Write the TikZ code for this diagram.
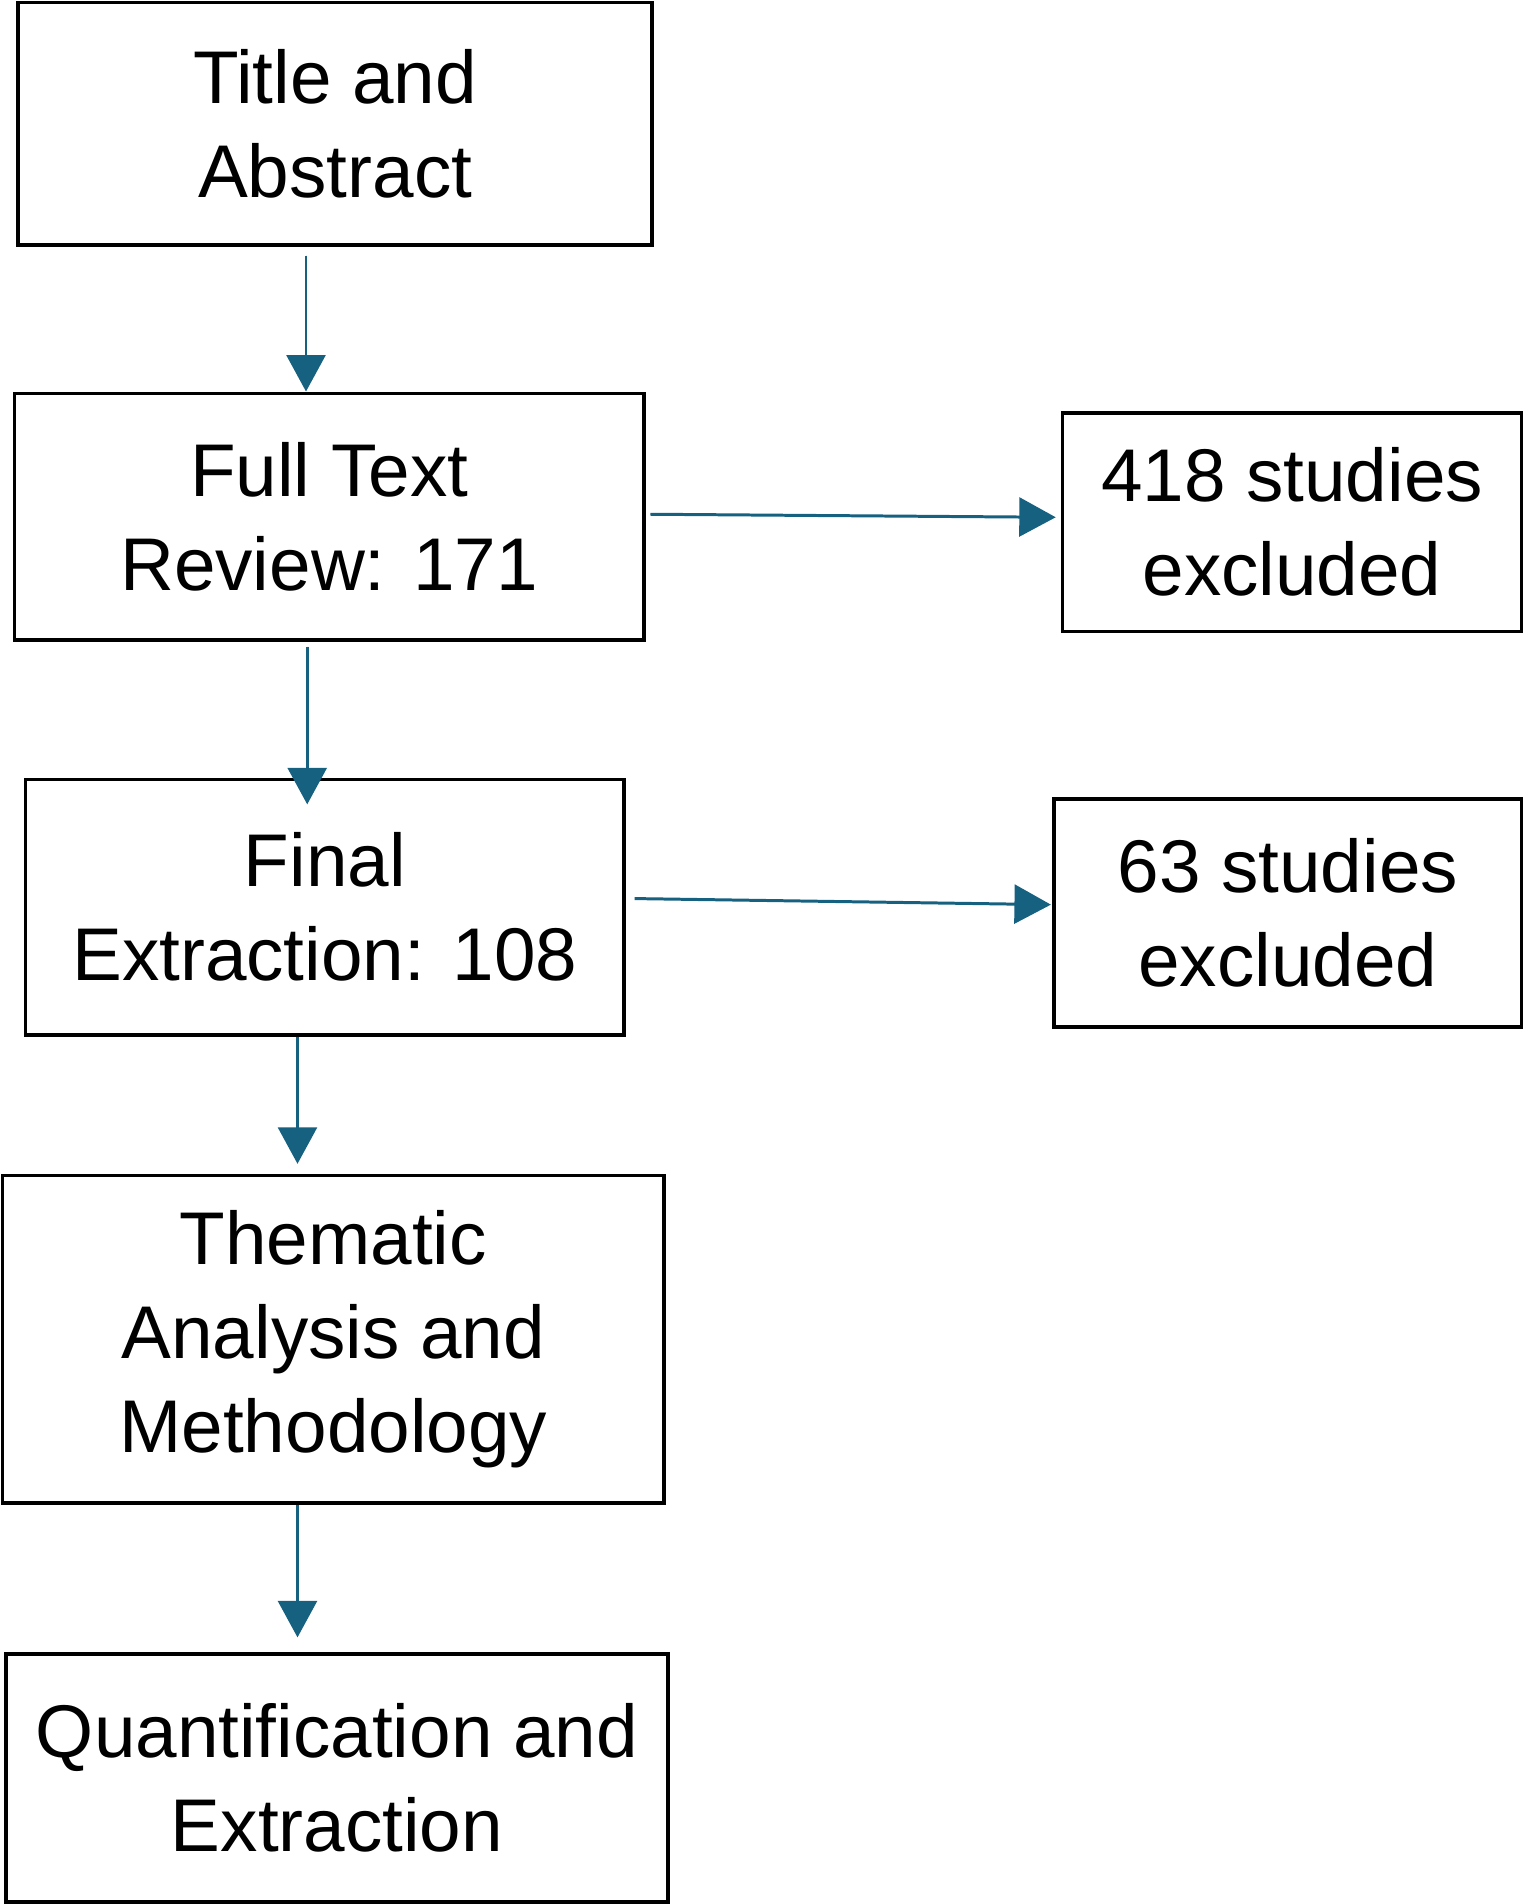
\documentclass[tikz,border=0pt]{standalone}
\usepackage{fontspec}
\setmainfont{Liberation Sans}
\usetikzlibrary{arrows.meta}
\definecolor{flowteal}{RGB}{22,96,128}

\begin{document}
\begin{tikzpicture}[yscale=-1,
    stagebox/.style={draw, line width=0.9pt, align=center, inner sep=0pt,
        font=\fontsize{17.5}{22}\selectfont},
    flowarrow/.style={draw=flowteal, line width=0.7pt,
        -{Triangle[width=0.32cm,length=0.3cm]}, fill=flowteal}]
    \useasboundingbox (0,0) rectangle (12.55,15.68);
    % main column
    \node[stagebox, minimum width=5.22cm, minimum height=2.0cm] (title) at (2.76,1.02) {Title and\\Abstract};
    \node[stagebox, minimum width=5.18cm, minimum height=2.03cm] (full) at (2.71,4.255) {Full Text\\Review: 171};
    \node[stagebox, minimum width=4.93cm, minimum height=2.1cm] (final) at (2.675,7.47) {Final\\Extraction: 108};
    \node[stagebox, minimum width=5.45cm, minimum height=2.7cm] (theme) at (2.745,11.03) {Thematic\\Analysis and\\Methodology};
    \node[stagebox, minimum width=5.45cm, minimum height=2.04cm] (quant) at (2.775,14.64) {Quantification and\\Extraction};
    % excluded studies
    \node[stagebox, minimum width=3.78cm, minimum height=1.8cm] (excl1) at (10.64,4.3) {418 studies\\excluded};
    \node[stagebox, minimum width=3.85cm, minimum height=1.88cm] (excl2) at (10.605,7.52) {63 studies\\excluded};
    % connectors
    \draw[flowarrow] (title.south -| 2.52,0) ++(0,0.07) -- (full.north -| 2.52,0);
    \draw[flowarrow] (full.south -| 2.53,0) ++(0,0.04) -- ([yshift=0.22cm]final.north -| 2.53,0);
    \draw[flowarrow] (final.south -| 2.45,0) -- ([yshift=-0.08cm]theme.north -| 2.45,0);
    \draw[flowarrow] (theme.south -| 2.45,0) -- ([yshift=-0.12cm]quant.north -| 2.45,0);
    \draw[flowarrow] ([xshift=0.04cm,yshift=-0.02cm]full.east) -- ([xshift=-0.04cm,yshift=-0.04cm]excl1.west);
    \draw[flowarrow] ([xshift=0.07cm,yshift=-0.07cm]final.east) -- ([xshift=-0.01cm,yshift=-0.07cm]excl2.west);
\end{tikzpicture}
\end{document}
